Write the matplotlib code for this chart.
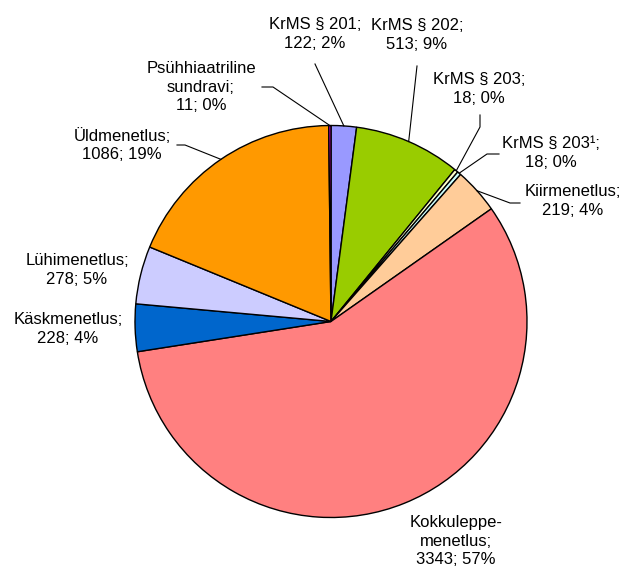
import numpy as np
import matplotlib
matplotlib.use('Agg')
import matplotlib.pyplot as plt

# data, clockwise from 12 o'clock
labels = ['KrMS § 201', 'KrMS § 202', 'KrMS § 203', 'KrMS § 203¹', 'Kiirmenetlus',
          'Kokkuleppe-\nmenetlus', 'Käskmenetlus', 'Lühimenetlus', 'Üldmenetlus',
          'Psühhiaatriline\nsundravi']
values = [122, 513, 18, 18, 219, 3343, 228, 278, 1086, 11]
percents = [2, 9, 0, 0, 4, 57, 4, 5, 19, 0]
colors = ['#9999FF', '#99CC00', '#FFFFCC', '#CCFFFF', '#FFCC99',
          '#FF8080', '#0066CC', '#CCCCFF', '#FF9900', '#CC00CC']

W, H = 628, 573
cx, cy, R = 331, 321.5, 196   # pixel coords (y down)

# label block centres and leader-line points (pixel coords), None = no line
txt_pos = [(315, 34), (417, 35), (479, 89), (551, 153), (573, 201),
           (456, 541), (68, 329), (77, 270), (122, 145), (201, 87)]
leaders = [[(315, 64)], [(417, 66)], [(480, 115), (480, 127)],
           [(499, 154), (487, 154)], [(520, 203), (510, 203)],
           None, None, None, [(177, 145), (185, 145)], [(262, 87), (273, 87)]]

plt.rcParams['font.family'] = ['Liberation Sans', 'DejaVu Sans']
fig = plt.figure(figsize=(W / 100, H / 100), dpi=100)
ax = fig.add_axes([0, 0, 1, 1])

ax.pie(values, colors=colors, startangle=90, counterclock=False,
       center=(cx, H - cy), radius=R, frame=True,
       wedgeprops=dict(edgecolor='black', linewidth=1))
ax.set_xlim(0, W)
ax.set_ylim(0, H)
ax.set_aspect('equal')
ax.axis('off')

total = sum(values)
cum = np.cumsum([0] + values[:-1])
for i in range(len(values)):
    th = np.radians(360.0 * (cum[i] + values[i] / 2) / total)
    ex = cx + R * np.sin(th)
    ey = cy - R * np.cos(th)
    if leaders[i] is not None:
        pts = leaders[i] + [(ex, ey)]
        ax.plot([p[0] for p in pts], [H - p[1] for p in pts], color='black', lw=0.8)
    s = '{};\n{}; {}%'.format(labels[i], values[i], percents[i])
    ax.text(txt_pos[i][0], H - txt_pos[i][1], s, ha='center', va='center',
            fontsize=12, linespacing=1.28, color='black')

fig.savefig('out.png', dpi=100)
